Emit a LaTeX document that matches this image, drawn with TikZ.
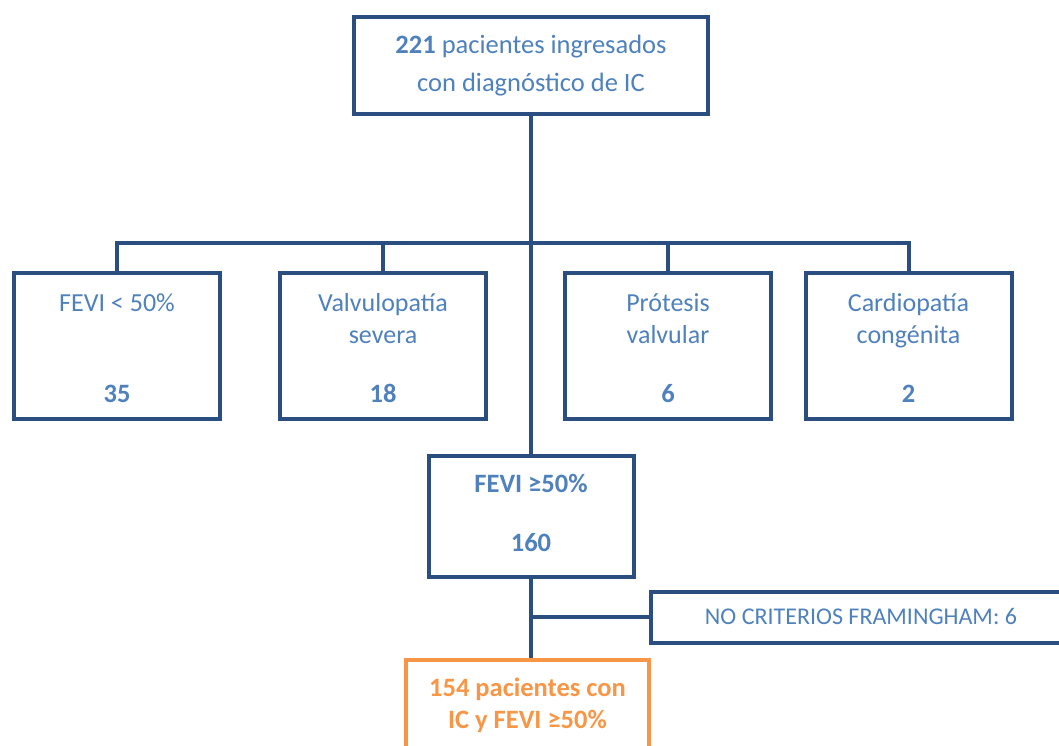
\documentclass[tikz,border=0pt]{standalone}
\usepackage{fontspec}
\setmainfont{Carlito}
\usetikzlibrary{positioning,calc}

\definecolor{boxline}{HTML}{2A4E80}
\definecolor{txtblue}{HTML}{4F81BD}
\definecolor{txtorange}{HTML}{F79646}

\tikzset{
  box/.style={draw=boxline, line width=4pt, fill=white, inner sep=0pt},
  catbox/.style={box, minimum width=206pt, minimum height=146pt},
  lbl/.style={text=txtblue, inner sep=0pt, align=center, font=\fontsize{26}{32}\selectfont},
  boldlbl/.style={lbl, font=\fontsize{26.5}{32}\selectfont\bfseries},
  link/.style={draw=boxline, line width=4pt}
}

\begin{document}
\begin{tikzpicture}[x=1pt, y=-1pt]
  \useasboundingbox (0,0) rectangle (1059,745);

  % top box
  \node[box, minimum width=354pt, minimum height=97pt] (ingreso) at (531,65.5) {};
  \node[lbl, anchor=base, font=\fontsize{26.5}{38}\selectfont] (ingreso-t1) at (531,53) {\textbf{221} pacientes ingresados};
  \node[lbl, anchor=base, font=\fontsize{26.5}{38}\selectfont] (ingreso-t2) at (531,91.5) {con diagnóstico de IC};

  % excluded categories
  \foreach \n/\x/\a/\b/\num in {a/117/{FEVI < 50\%}/{}/35, b/383/Valvulopatía/severa/18, c/668/Prótesis/valvular/6, d/908.5/Cardiopatía/congénita/2}{
    \node[catbox] (cat\n) at (\x,346) {};
    \node[lbl, anchor=base] (cat\n-t1) at (\x,311) {\a};
    \node[lbl, anchor=base] (cat\n-t2) at (\x,343) {\b};
    \node[boldlbl, anchor=base] (cat\n-n) at (\x,402) {\num};
  }

  % preserved EF
  \node[box, minimum width=205pt, minimum height=121pt] (fevi) at (531,516.5) {};
  \node[boldlbl, anchor=base] (fevi-t) at (531,492) {FEVI ≥50\%};
  \node[boldlbl, anchor=base] (fevi-n) at (531,551) {160};

  % no Framingham criteria
  \node[box, minimum width=412pt, minimum height=51pt] (framing) at (857,617) {};
  \node[lbl, anchor=base, font=\fontsize{24}{30}\selectfont] (framing-t) at (861,624) {NO CRITERIOS FRAMINGHAM: 6};

  % final cohort
  \node[box, draw=txtorange, minimum width=243pt, minimum height=130pt] (final) at (527.5,725) {};
  \node[boldlbl, anchor=base, text=txtorange] (final-t1) at (527.5,696) {154 pacientes con};
  \node[boldlbl, anchor=base, text=txtorange] (final-t2) at (527.5,728) {IC y FEVI ≥50\%};

  % connectors
  \coordinate (bar) at (531,243);
  \draw[link] (ingreso.south) -- (fevi.north);
  \draw[link] (cata.north) |- (bar) -| (catd.north);
  \draw[link] (catb.north) -- (catb.north |- bar);
  \draw[link] (catc.north) -- (catc.north |- bar);
  \draw[link] (fevi.south) -- (fevi.south |- final.north);
  \draw[link] (fevi.south |- framing.west) -- (framing.west);
\end{tikzpicture}
\end{document}
